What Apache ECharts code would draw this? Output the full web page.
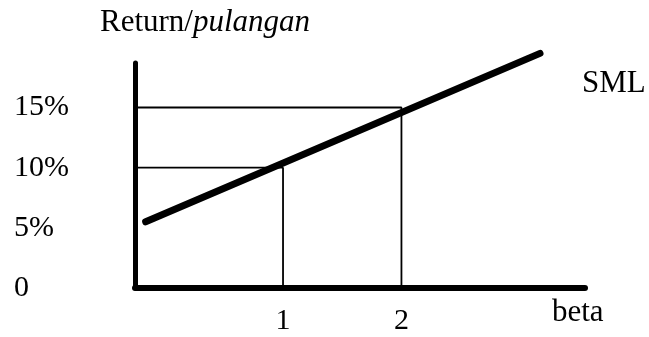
<!DOCTYPE html>
<html>
<head>
<meta charset="utf-8">
<script src="https://cdn.jsdelivr.net/npm/echarts@6/dist/echarts.min.js"></script>
<style>
  html, body { margin: 0; padding: 0; background: #fff; }
  #chart { width: 649px; height: 337px; }
</style>
</head>
<body>
<div id="chart"></div>
<script>
// data
const smlLine = [[-0.16, 5.5], [3.17, 19.5]];   // SML, beta vs return %
const betaMarks = [1, 2];
const returnMarks = [10, 15];                     // return at beta 1 and 2
const yTicks = [0, 5, 10, 15];
const xTicks = [1, 2];

const FONT = "'Liberation Serif', 'Times New Roman', serif";
const xMin = -0.25;

// guide lines: from y axis across to beta, then down to 0
const guides = betaMarks.map((b, i) => [[xMin, returnMarks[i]], [b, returnMarks[i]], [b, 0]]);

const myChart = echarts.init(document.getElementById('chart'));
const options = {
  animation: false,
  title: {
    text: 'Return/{i|pulangan}',
    left: 100,
    top: 7,
    padding: 0,
    textStyle: {
      fontFamily: FONT,
      fontSize: 31,
      fontWeight: 'normal',
      color: '#000',
      rich: {
        i: { fontFamily: FONT, fontSize: 31, fontStyle: 'italic', color: '#000' },
      },
    },
  },
  grid: {
    left: 135,
    right: 64,
    top: 63,
    bottom: 49,
  },
  xAxis: {
    type: 'value',
    min: xMin,
    max: 3.55,
    name: 'beta',
    nameLocation: 'end',
    nameGap: -33,
    nameTextStyle: {
      fontFamily: FONT,
      fontSize: 31,
      color: '#000',
      verticalAlign: 'top',
      padding: [9, 0, 0, 0],
    },
    axisLine: { onZero: false, lineStyle: { color: '#000', width: 6 } },
    axisTick: { show: false },
    splitLine: { show: false },
    axisLabel: {
      customValues: xTicks,
      fontFamily: FONT,
      fontSize: 30,
      color: '#000',
      margin: 18,
    },
  },
  yAxis: {
    type: 'value',
    min: 0,
    max: 18.7,
    axisLine: { show: true, onZero: false, lineStyle: { color: '#000', width: 5 } },
    axisTick: { show: false },
    splitLine: { show: false },
    axisLabel: {
      customValues: yTicks,
      formatter: (v) => (v === 0 ? '0' : v + '%'),
      fontFamily: FONT,
      fontSize: 30,
      color: '#000',
      align: 'left',
      margin: 121,
    },
  },
  series: [
    ...guides.map((g) => ({
      type: 'line',
      data: g,
      symbol: 'none',
      silent: true,
      lineStyle: { color: '#000', width: 1.8 },
    })),
    {
      // SML
      type: 'line',
      name: 'SML',
      data: smlLine,
      symbol: 'none',
      clip: false,
      lineStyle: { color: '#000', width: 7, cap: 'round' },
      endLabel: {
        show: true,
        formatter: 'SML',
        distance: 0,
        offset: [42, 30],
        fontFamily: FONT,
        fontSize: 31,
        color: '#000',
      },
    },
  ],
};
myChart.setOption(options);
</script>
</body>
</html>
